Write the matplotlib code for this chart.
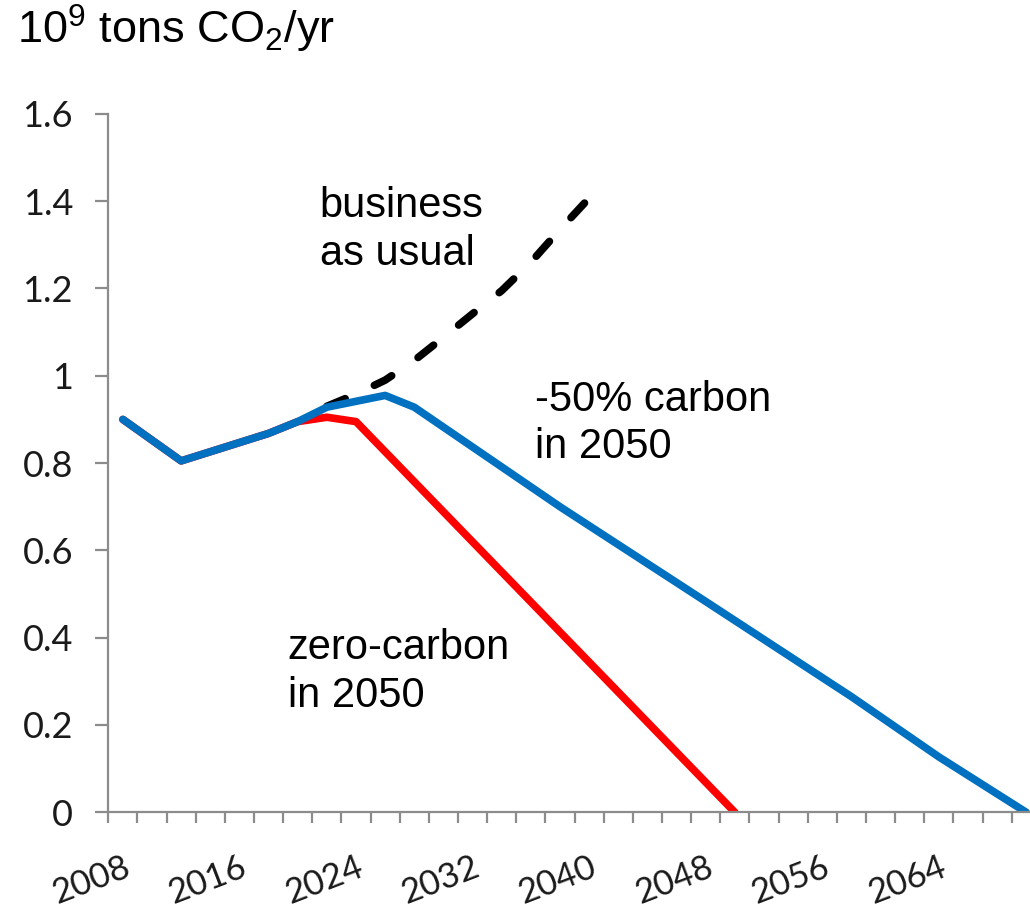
import numpy as np
import matplotlib.pyplot as plt

plt.rcParams['mathtext.fontset'] = 'custom'
plt.rcParams['mathtext.rm'] = 'Liberation Sans'
plt.rcParams['mathtext.it'] = 'Liberation Sans'

# Emission paths, 10^9 tons CO2 per year (vertices)
bau_years = [2022, 2024, 2026, 2028, 2030, 2032, 2034, 2036, 2038, 2040]
bau_values = [0.93, 0.958, 0.99, 1.035, 1.088, 1.142, 1.195, 1.26, 1.335, 1.407]

zero_years = [2008, 2012, 2018, 2020, 2022, 2024, 2050]
zero_values = [0.90, 0.805, 0.868, 0.895, 0.905, 0.895, 0.0]

half_years = [2008, 2012, 2018, 2020, 2022, 2026, 2028, 2038, 2048, 2058, 2064, 2070]
half_values = [0.90, 0.805, 0.868, 0.895, 0.928, 0.955, 0.928, 0.70, 0.483, 0.265, 0.127, 0.0]

label_years = [2008, 2016, 2024, 2032, 2040, 2048, 2056, 2064]
y_ticks = [0, 0.2, 0.4, 0.6, 0.8, 1.0, 1.2, 1.4, 1.6]

fig = plt.figure(figsize=(10.3, 9.08), dpi=100)
ax = fig.add_axes([0.10515, 0.1054, 0.89485, 0.7692])

lw = 5.5
ax.plot(bau_years, bau_values, color='black', lw=lw, dashes=(2.6, 4.2),
        dash_capstyle='round', solid_capstyle='round')
ax.plot(zero_years, zero_values, color='#ff0000', lw=lw, solid_capstyle='round',
        solid_joinstyle='round')
ax.plot(half_years, half_values, color='#0070c0', lw=lw, solid_capstyle='round',
        solid_joinstyle='round')

ax.set_xlim(2007, 2070.26)
ax.set_ylim(0, 1.6)

# axis styling, excel-like
grey = '#8c8c8c'
for side in ['top', 'right']:
    ax.spines[side].set_visible(False)
for side in ['left', 'bottom']:
    ax.spines[side].set_color(grey)
    ax.spines[side].set_linewidth(1.6)

ax.set_yticks(y_ticks)
ax.set_yticklabels(['{:g}'.format(v) for v in y_ticks], fontsize=26,
                   family='Lato', color='#1a1a1a')
ax.tick_params(axis='y', direction='out', length=9.4, width=1.6, color=grey, pad=16)

# tick marks every two years, labels every eight
ax.set_xticks(np.arange(2007, 2071, 2), minor=True)
ax.tick_params(axis='x', which='minor', direction='out', length=8, width=1.6, color=grey)
ax.set_xticks(label_years)
ax.set_xticklabels([str(y) for y in label_years], fontsize=25, family='Lato',
                   color='#1a1a1a', rotation=21, ha='right', va='top',
                   rotation_mode='anchor')
ax.tick_params(axis='x', which='major', length=0, pad=28)

# annotations (y is the baseline of the last line)
txt = dict(fontsize=30, family='Liberation Sans', color='black', va='baseline',
           linespacing=1.25)
ax.text(2021.5, 1.254, 'business\nas usual', **txt)
ax.text(2036.3, 0.811, '-50% carbon\nin 2050', **txt)
ax.text(2019.3, 0.241, 'zero-carbon\nin 2050', **txt)

fig.text(17 / 1030, 1 - 44 / 908, r'10$^9$ tons CO$_2$/yr', fontsize=32.5,
         family='Liberation Sans', va='baseline', ha='left')

fig.savefig('out.png', dpi=100)
